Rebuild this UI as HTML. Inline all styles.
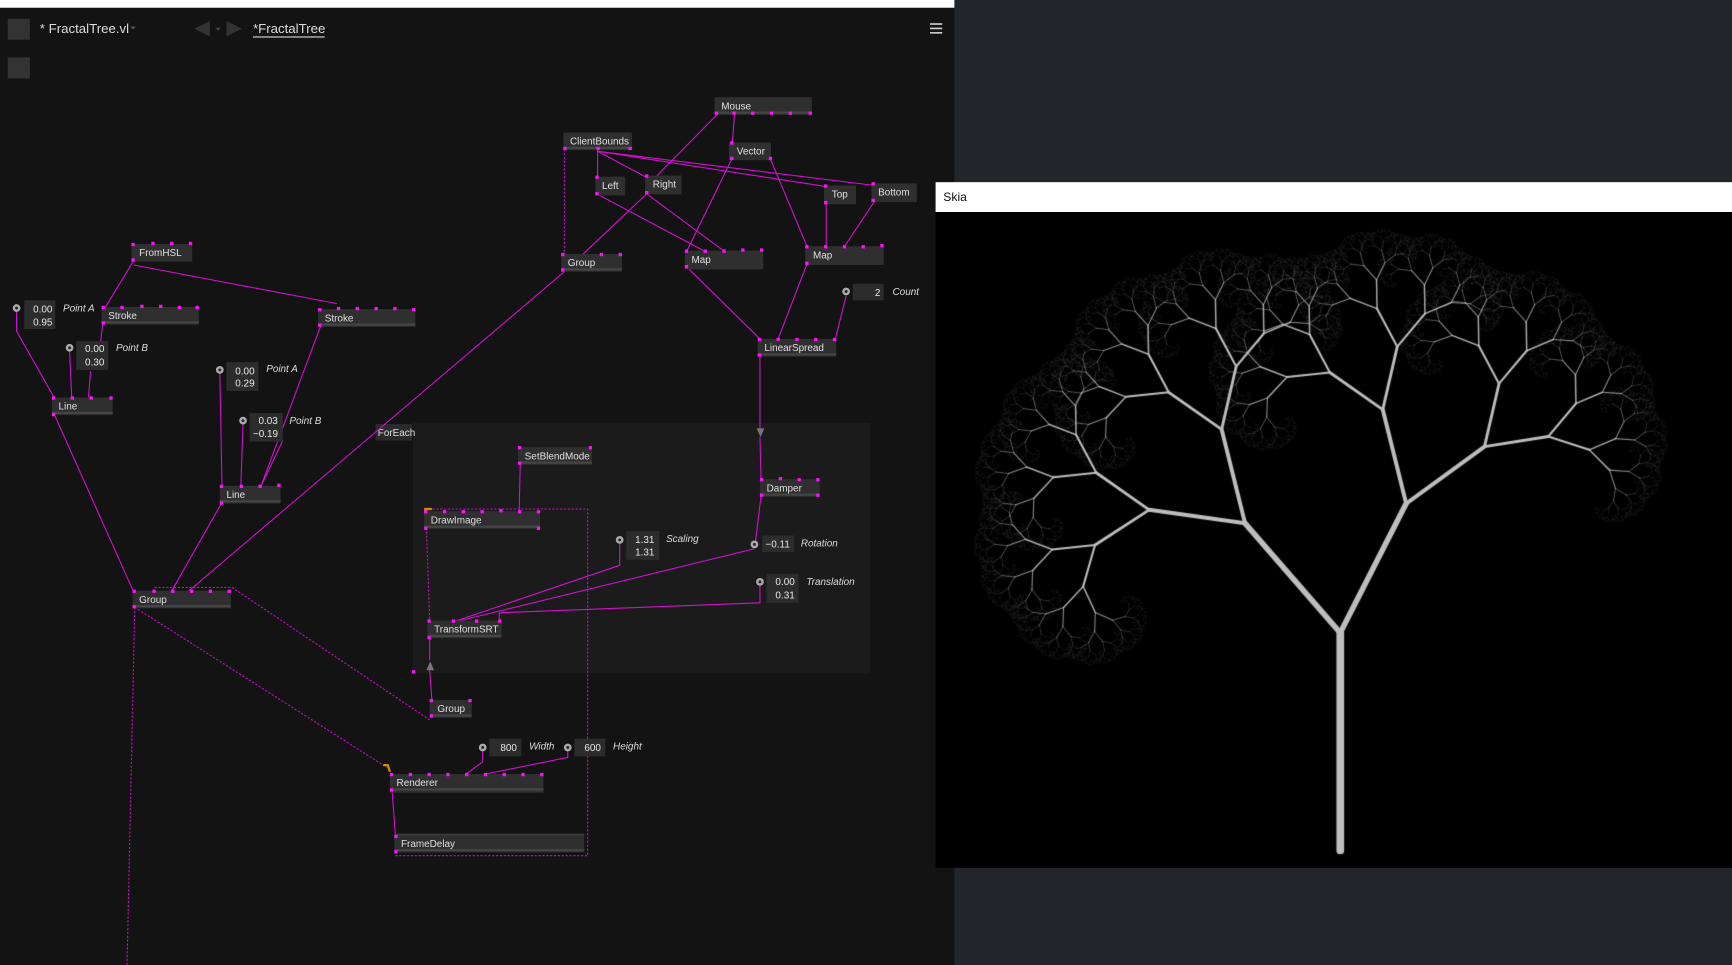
<!DOCTYPE html>
<html><head><meta charset="utf-8"><style>
html,body{margin:0;padding:0;background:#22262a;width:1732px;height:965px;overflow:hidden}
svg{position:absolute;left:0;top:0}
canvas{position:absolute}
text{font-family:"Liberation Sans",sans-serif}
.n{fill:#2f2f2f}.nb{fill:#454545}.nt{fill:#3a3a3a}
.t{font-size:9px;fill:#e0e0e0}
.l{font-size:9px;fill:#ddd;font-style:italic}
.v{font-size:9px;fill:#e8e8e8}
.w{stroke:#d010d0;stroke-width:1;fill:none}
.d{stroke:#c010c0;stroke-width:1;fill:none;stroke-dasharray:2 1.5}
.p{fill:#ff10ff}
</style></head><body>
<svg width="1732" height="965" viewBox="0 0 1568 874" preserveAspectRatio="none">
<rect x="0" y="0" width="1568" height="874" fill="#22262a"/>
<rect x="0" y="0" width="864" height="874" fill="#131313"/>
<rect x="0" y="0" width="864" height="7" fill="#fff"/>
<rect x="7" y="17" width="20" height="19" fill="#333"/>
<rect x="7" y="52" width="20" height="19" fill="#333"/>
<text x="36" y="30" style="font-size:12px;fill:#ddd">* FractalTree.vl</text>
<path d="M118 24l5 0l-2.5 3z" fill="#555"/>
<path d="M190 19l-14 7l14 7z" fill="#333"/><path d="M195 25l5 0l-2.5 3z" fill="#444"/><path d="M205 19l14 7l-14 7z" fill="#333"/>
<text x="229" y="30" style="font-size:12px;fill:#ddd">*FractalTree</text>
<rect x="229" y="33" width="65" height="1" fill="#ddd"/>
<rect x="842" y="21" width="11" height="1.5" fill="#ccc"/><rect x="842" y="25" width="11" height="1.5" fill="#ccc"/><rect x="842" y="29" width="11" height="1.5" fill="#ccc"/>

<rect x="374" y="383" width="414" height="227" fill="#1b1b1b"/>
<rect x="340" y="384" width="33" height="15" fill="#2a2a2a"/><text class="t" x="342" y="395">ForEach</text>

<g class="w">
<path d="M650 103L586 168"/><path d="M586 175L527 231"/>
<path d="M665 103L663 130"/>
<path d="M541 135L541 161M541 137L586 161M541 137L748 169M541 137L792 168"/>
<path d="M541 176L637 227M586 176L655 227"/>
<path d="M663 143L622 227M697 143L731 224"/>
<path d="M748 182L748 224M792 182L764 224"/>
<path d="M622 242L689 308M731 238L704 308M766 268L756 308"/>
<path d="M688 322L688 388M688 396L689 435"/>
<path d="M689 449L684 490M683 497L413 563"/>
<path d="M561 492L561 512L411 563"/>
<path d="M688 530L688 546L452 555L452 563"/>
<path d="M471 420L470 463"/>
<path d="M389 578L389 598M389 607L391 634"/>
<path d="M121 236L95 279M121 240L305 275"/>
<path d="M15 282L15 300L49 360"/>
<path d="M63 318L65 361M82 336L80 361M93 293L91 310"/>
<path d="M49 375L121 536"/>
<path d="M199 338L201 441M220 384L218 441M256 399L236 441M290 296L236 441"/>
<path d="M201 455L155 536"/>
<path d="M511 246L170 536"/>
<path d="M437 680L437 690L422 701M514 680L514 686L440 701"/>
<path d="M355 716L358 757"/>
</g>
<g class="d">
<path d="M511 135L511 231"/>
<path d="M386 478L389 563"/>
<path d="M140 532L210 532L389 652"/>
<path d="M122 550L350 695"/>
<path d="M122 550L115 874"/>
<path d="M388 461L532 461L532 775L358 775"/>
</g>
<path d="M685 388h7l-3.5 8z" fill="#777"/>
<path d="M386 607h7l-3.5-8z" fill="#777"/>
<path d="M385 468v-7h6" stroke="#e08a00" stroke-width="2" fill="none"/>
<path d="M347 693l4 0l2 6" stroke="#e08a00" stroke-width="2" fill="none"/>

<g>
<g><rect class="n" x="647" y="88" width="88" height="16"/><rect class="nb" x="647" y="101" width="88" height="2"/><text class="t" x="653" y="99">Mouse</text><rect class="p" x="647" y="101" width="3" height="3"/><rect class="p" x="663" y="101" width="3" height="3"/><rect class="p" x="680" y="101" width="3" height="3"/><rect class="p" x="697" y="101" width="3" height="3"/><rect class="p" x="714" y="101" width="3" height="3"/><rect class="p" x="732" y="101" width="3" height="3"/></g>
<g><rect class="n" x="510" y="120" width="62" height="16"/><rect class="nb" x="510" y="133" width="62" height="2"/><text class="t" x="516" y="131">ClientBounds</text><rect class="p" x="510" y="133" width="3" height="3"/><rect class="p" x="540" y="133" width="3" height="3"/><rect class="p" x="569" y="133" width="3" height="3"/></g>
<g><rect class="n" x="660" y="129" width="38" height="16"/><text class="t" x="667" y="140">Vector</text><rect class="p" x="661" y="128" width="3" height="3"/><rect class="p" x="661" y="142" width="3" height="3"/><rect class="p" x="696" y="142" width="3" height="3"/></g>
<g><rect class="n" x="539" y="160" width="27" height="17"/><text class="t" x="545" y="171">Left</text><rect class="p" x="539" y="159" width="3" height="3"/><rect class="p" x="539" y="174" width="3" height="3"/></g>
<g><rect class="n" x="584" y="159" width="33" height="17"/><text class="t" x="591" y="170">Right</text><rect class="p" x="584" y="158" width="3" height="3"/><rect class="p" x="584" y="173" width="3" height="3"/></g>
<g><rect class="n" x="746" y="168" width="29" height="17"/><text class="t" x="753" y="179">Top</text><rect class="p" x="746" y="167" width="3" height="3"/><rect class="p" x="746" y="182" width="3" height="3"/></g>
<g><rect class="n" x="789" y="166" width="41" height="17"/><text class="t" x="795" y="177">Bottom</text><rect class="p" x="789" y="165" width="3" height="3"/><rect class="p" x="789" y="180" width="3" height="3"/></g>
<g><rect class="n" x="119" y="221" width="55" height="16"/><text class="t" x="126" y="232">FromHSL</text><rect class="p" x="119" y="220" width="3" height="3"/><rect class="p" x="137" y="219" width="3" height="3"/><rect class="p" x="154" y="219" width="3" height="3"/><rect class="p" x="171" y="219" width="3" height="3"/><rect class="p" x="119" y="234" width="3" height="3"/></g>
<g><rect class="n" x="508" y="230" width="55" height="16"/><rect class="nb" x="508" y="243" width="55" height="2"/><text class="t" x="514" y="241">Group</text><rect class="p" x="508" y="229" width="3" height="3"/><rect class="p" x="543" y="229" width="3" height="3"/><rect class="p" x="560" y="229" width="3" height="3"/><rect class="p" x="508" y="243" width="3" height="3"/></g>
<g><rect class="n" x="620" y="227" width="71" height="17"/><text class="t" x="626" y="238">Map</text><rect class="p" x="620" y="226" width="3" height="3"/><rect class="p" x="637" y="226" width="3" height="3"/><rect class="p" x="654" y="226" width="3" height="3"/><rect class="p" x="671" y="225" width="3" height="3"/><rect class="p" x="688" y="225" width="3" height="3"/><rect class="p" x="620" y="240" width="3" height="3"/></g>
<g><rect class="n" x="729" y="223" width="71" height="17"/><text class="t" x="736" y="234">Map</text><rect class="p" x="729" y="222" width="3" height="3"/><rect class="p" x="746" y="222" width="3" height="3"/><rect class="p" x="763" y="222" width="3" height="3"/><rect class="p" x="780" y="222" width="3" height="3"/><rect class="p" x="797" y="221" width="3" height="3"/><rect class="p" x="729" y="237" width="3" height="3"/></g>
<g><rect class="n" x="92" y="278" width="88" height="16"/><rect class="nb" x="92" y="291" width="88" height="2"/><text class="t" x="98" y="289">Stroke</text><rect class="p" x="92" y="277" width="3" height="3"/><rect class="p" x="109" y="277" width="3" height="3"/><rect class="p" x="127" y="276" width="3" height="3"/><rect class="p" x="144" y="276" width="3" height="3"/><rect class="p" x="161" y="277" width="3" height="3"/><rect class="p" x="177" y="277" width="3" height="3"/><rect class="p" x="92" y="291" width="3" height="3"/></g>
<g><rect class="n" x="288" y="280" width="88" height="16"/><rect class="nb" x="288" y="293" width="88" height="2"/><text class="t" x="294" y="291">Stroke</text><rect class="p" x="288" y="279" width="3" height="3"/><rect class="p" x="305" y="278" width="3" height="3"/><rect class="p" x="322" y="278" width="3" height="3"/><rect class="p" x="339" y="278" width="3" height="3"/><rect class="p" x="356" y="278" width="3" height="3"/><rect class="p" x="373" y="279" width="3" height="3"/><rect class="p" x="288" y="293" width="3" height="3"/></g>
<g><rect class="n" x="686" y="307" width="71" height="16"/><rect class="nb" x="686" y="320" width="71" height="2"/><text class="t" x="692" y="318">LinearSpread</text><rect class="p" x="686" y="306" width="3" height="3"/><rect class="p" x="703" y="306" width="3" height="3"/><rect class="p" x="720" y="306" width="3" height="3"/><rect class="p" x="737" y="306" width="3" height="3"/><rect class="p" x="754" y="306" width="3" height="3"/><rect class="p" x="686" y="320" width="3" height="3"/></g>
<g><rect class="n" x="47" y="360" width="55" height="16"/><rect class="nb" x="47" y="373" width="55" height="2"/><text class="t" x="53" y="371">Line</text><rect class="p" x="47" y="359" width="3" height="3"/><rect class="p" x="64" y="359" width="3" height="3"/><rect class="p" x="81" y="359" width="3" height="3"/><rect class="p" x="99" y="359" width="3" height="3"/><rect class="p" x="47" y="374" width="3" height="3"/></g>
<g><rect class="n" x="199" y="440" width="55" height="16"/><rect class="nb" x="199" y="453" width="55" height="2"/><text class="t" x="205" y="451">Line</text><rect class="p" x="199" y="439" width="3" height="3"/><rect class="p" x="217" y="439" width="3" height="3"/><rect class="p" x="234" y="439" width="3" height="3"/><rect class="p" x="251" y="438" width="3" height="3"/><rect class="p" x="199" y="454" width="3" height="3"/></g>
<g><rect class="n" x="469" y="405" width="67" height="16"/><rect class="nb" x="469" y="418" width="67" height="2"/><text class="t" x="475" y="416">SetBlendMode</text><rect class="p" x="469" y="404" width="3" height="3"/><rect class="p" x="533" y="404" width="3" height="3"/><rect class="p" x="469" y="418" width="3" height="3"/></g>
<g><rect class="n" x="688" y="434" width="54" height="16"/><rect class="nb" x="688" y="447" width="54" height="2"/><text class="t" x="694" y="445">Damper</text><rect class="p" x="688" y="433" width="3" height="3"/><rect class="p" x="705" y="432" width="3" height="3"/><rect class="p" x="722" y="433" width="3" height="3"/><rect class="p" x="739" y="433" width="3" height="3"/><rect class="p" x="688" y="447" width="3" height="3"/><rect class="p" x="739" y="447" width="3" height="3"/></g>
<g><rect class="n" x="384" y="463" width="105" height="16"/><rect class="nb" x="384" y="476" width="105" height="2"/><text class="t" x="390" y="474">DrawImage</text><rect class="p" x="384" y="462" width="3" height="3"/><rect class="p" x="401" y="462" width="3" height="3"/><rect class="p" x="418" y="462" width="3" height="3"/><rect class="p" x="435" y="462" width="3" height="3"/><rect class="p" x="452" y="461" width="3" height="3"/><rect class="p" x="469" y="462" width="3" height="3"/><rect class="p" x="486" y="462" width="3" height="3"/><rect class="p" x="384" y="477" width="3" height="3"/><rect class="p" x="486" y="477" width="3" height="3"/></g>
<g><rect class="n" x="387" y="562" width="67" height="16"/><rect class="nb" x="387" y="575" width="67" height="2"/><text class="t" x="393" y="573">TransformSRT</text><rect class="p" x="387" y="561" width="3" height="3"/><rect class="p" x="409" y="561" width="3" height="3"/><rect class="p" x="430" y="561" width="3" height="3"/><rect class="p" x="451" y="561" width="3" height="3"/><rect class="p" x="387" y="576" width="3" height="3"/></g>
<rect class="p" x="373" y="607" width="3" height="3"/>
<g><rect class="n" x="120" y="535" width="89" height="16"/><rect class="nb" x="120" y="548" width="89" height="2"/><text class="t" x="126" y="546">Group</text><rect class="p" x="120" y="534" width="3" height="3"/><rect class="p" x="138" y="534" width="3" height="3"/><rect class="p" x="155" y="534" width="3" height="3"/><rect class="p" x="172" y="534" width="3" height="3"/><rect class="p" x="189" y="534" width="3" height="3"/><rect class="p" x="206" y="534" width="3" height="3"/><rect class="p" x="120" y="548" width="3" height="3"/></g>
<g><rect class="n" x="389" y="634" width="38" height="16"/><rect class="nb" x="389" y="647" width="38" height="2"/><text class="t" x="396" y="645">Group</text><rect class="p" x="389" y="633" width="3" height="3"/><rect class="p" x="424" y="633" width="3" height="3"/><rect class="p" x="389" y="647" width="3" height="3"/></g>
<g><rect class="n" x="353" y="701" width="139" height="17"/><rect class="nb" x="353" y="714" width="139" height="2"/><text class="t" x="359" y="712">Renderer</text><rect class="p" x="353" y="700" width="3" height="3"/><rect class="p" x="370" y="700" width="3" height="3"/><rect class="p" x="387" y="700" width="3" height="3"/><rect class="p" x="404" y="700" width="3" height="3"/><rect class="p" x="421" y="700" width="3" height="3"/><rect class="p" x="438" y="700" width="3" height="3"/><rect class="p" x="455" y="700" width="3" height="3"/><rect class="p" x="472" y="700" width="3" height="3"/><rect class="p" x="489" y="700" width="3" height="3"/><rect class="p" x="353" y="714" width="3" height="3"/></g>
<g><rect class="nt" x="357" y="755" width="172" height="2"/><rect class="n" x="357" y="757" width="172" height="15"/><rect class="nb" x="357" y="769" width="172" height="2"/><text class="t" x="363" y="767">FrameDelay</text><rect class="p" x="357" y="756" width="3" height="3"/><rect class="p" x="357" y="770" width="3" height="3"/></g>
</g>

<g>
<circle cx="15" cy="279" r="3.5" fill="#aaa"/><circle cx="15" cy="279" r="1.3" fill="#222"/>
<rect x="22" y="272" width="28" height="26" fill="#2c2c2c"/><text class="v" x="30" y="283">0.00</text><text class="v" x="30" y="295">0.95</text><text class="l" x="57" y="282">Point A</text>
<circle cx="63" cy="315" r="3.5" fill="#aaa"/><circle cx="63" cy="315" r="1.3" fill="#222"/>
<rect x="69" y="309" width="29" height="26" fill="#2c2c2c"/><text class="v" x="77" y="319">0.00</text><text class="v" x="77" y="331">0.30</text><text class="l" x="105" y="318">Point B</text>
<circle cx="199" cy="335" r="3.5" fill="#aaa"/><circle cx="199" cy="335" r="1.3" fill="#222"/>
<rect x="205" y="328" width="29" height="26" fill="#2c2c2c"/><text class="v" x="213" y="339">0.00</text><text class="v" x="213" y="350">0.29</text><text class="l" x="241" y="337">Point A</text>
<circle cx="220" cy="381" r="3.5" fill="#aaa"/><circle cx="220" cy="381" r="1.3" fill="#222"/>
<rect x="226" y="374" width="30" height="26" fill="#2c2c2c"/><text class="v" x="234" y="384">0.03</text><text class="v" x="229" y="396">−0.19</text><text class="l" x="262" y="384">Point B</text>
<circle cx="766" cy="264" r="3.5" fill="#aaa"/><circle cx="766" cy="264" r="1.3" fill="#222"/>
<rect x="772" y="257" width="28" height="15" fill="#2c2c2c"/><text class="v" x="792" y="268">2</text><text class="l" x="808" y="267">Count</text>
<circle cx="561" cy="489" r="3.5" fill="#aaa"/><circle cx="561" cy="489" r="1.3" fill="#222"/>
<rect x="567" y="481" width="30" height="26" fill="#2c2c2c"/><text class="v" x="575" y="492">1.31</text><text class="v" x="575" y="503">1.31</text><text class="l" x="603" y="491">Scaling</text>
<circle cx="683" cy="493" r="3.5" fill="#aaa"/><circle cx="683" cy="493" r="1.3" fill="#222"/>
<rect x="690" y="485" width="29" height="15" fill="#2c2c2c"/><text class="v" x="693" y="496">−0.11</text><text class="l" x="725" y="495">Rotation</text>
<circle cx="688" cy="527" r="3.5" fill="#aaa"/><circle cx="688" cy="527" r="1.3" fill="#222"/>
<rect x="694" y="520" width="29" height="26" fill="#2c2c2c"/><text class="v" x="702" y="530">0.00</text><text class="v" x="702" y="542">0.31</text><text class="l" x="730" y="530">Translation</text>
<circle cx="437" cy="677" r="3.5" fill="#aaa"/><circle cx="437" cy="677" r="1.3" fill="#222"/>
<rect x="443" y="669" width="29" height="16" fill="#2c2c2c"/><text class="v" x="453" y="680">800</text><text class="l" x="479" y="679">Width</text>
<circle cx="514" cy="677" r="3.5" fill="#aaa"/><circle cx="514" cy="677" r="1.3" fill="#222"/>
<rect x="520" y="669" width="28" height="16" fill="#2c2c2c"/><text class="v" x="529" y="680">600</text><text class="l" x="555" y="679">Height</text>
</g>

<rect x="847" y="165" width="721" height="27" fill="#fff"/>
<text x="854" y="182" style="font-size:11px;fill:#111">Skia</text>
<rect x="847" y="192" width="721" height="594" fill="#000"/>
</svg>
<canvas id="c" width="796" height="656" style="left:935.6px;top:212px;width:796px;height:656px"></canvas>
<script>
var cv=document.getElementById('c'),g=cv.getContext('2d');
var s=1732/1568;g.scale(s,s);g.lineCap='round';
var A1=-41*Math.PI/180,A2=27*Math.PI/180;
function br(x,y,a,len,w,d){
  var x2=x+Math.sin(a)*len,y2=y-Math.cos(a)*len;
  g.strokeStyle=d<5?'#bdbdbd':'rgba(200,200,200,'+Math.max(0.12,1-(d-4)*0.15)+')';
  g.lineWidth=Math.max(w,0.4);
  g.beginPath();g.moveTo(x,y);g.lineTo(x2,y2);g.stroke();
  if(d<13){br(x2,y2,a+A1,len*0.667,w*0.72,d+1);br(x2,y2,a+A2,len*0.667,w*0.72,d+1);}
}
br(366,578,0,197,7,0);
</script>
</body></html>
